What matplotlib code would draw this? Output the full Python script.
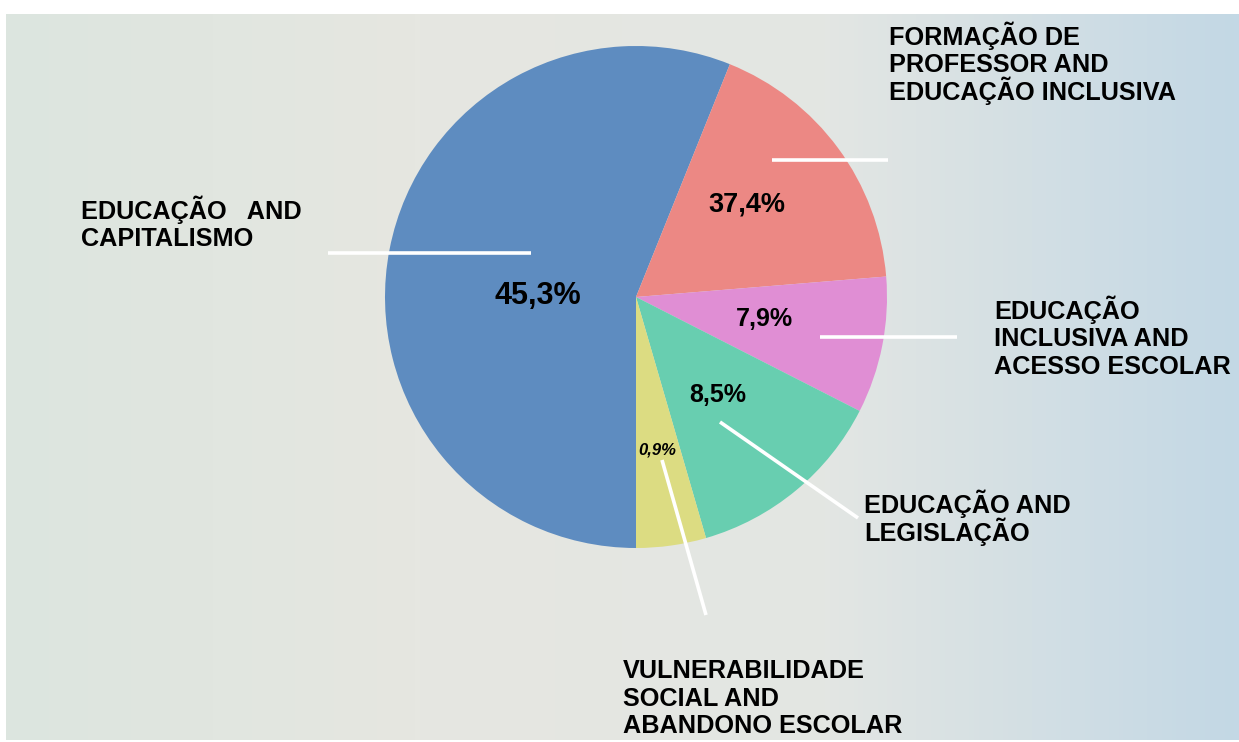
import numpy as np
import matplotlib.pyplot as plt
from matplotlib.colors import LinearSegmentedColormap

# slice sizes as drawn (degrees, in percent)
categories = ['EDUCAÇÃO   AND\nCAPITALISMO',
              'FORMAÇÃO DE\nPROFESSOR AND\nEDUCAÇÃO INCLUSIVA',
              'EDUCAÇÃO\nINCLUSIVA AND\nACESSO ESCOLAR',
              'EDUCAÇÃO AND\nLEGISLAÇÃO',
              'VULNERABILIDADE\nSOCIAL AND\nABANDONO ESCOLAR']
sizes = [56.1, 17.6, 8.8, 13.0, 4.5]
pct_labels = ['45,3%', '37,4%', '7,9%', '8,5%', '0,9%']
colors = ['#5e8cc0', '#ec8884', '#e08ed4', '#68ceb0', '#dcdc82']

W, H = 1239, 742
fig = plt.figure(figsize=(W / 100, H / 100), dpi=100)
fig.patch.set_facecolor('white')

# background gradient panel
bg = fig.add_axes([6 / W, 2 / H, (W - 6) / W, (H - 16) / H])
cmap = LinearSegmentedColormap.from_list('bg', ['#dce5df', '#e6e7e1', '#e3e6e3', '#c3d8e5'])
grad = np.linspace(0, 1, 256).reshape(1, -1)
bg.imshow(grad, cmap=cmap, aspect='auto', extent=[0, 1, 0, 1])
bg.set_axis_off()

# pie
cx, cy, r = 636, 297, 251
ax = fig.add_axes([(cx - r) / W, (H - cy - r) / H, 2 * r / W, 2 * r / H])
ax.pie(sizes, colors=colors, startangle=-90, counterclock=False,
       wedgeprops=dict(linewidth=0))
ax.set_xlim(-1, 1)
ax.set_ylim(-1, 1)
ax.patch.set_visible(False)

# overlay in pixel coordinates for labels and leader lines
ov = fig.add_axes([0, 0, 1, 1])
ov.set_xlim(0, W)
ov.set_ylim(H, 0)
ov.set_axis_off()
ov.patch.set_visible(False)

leaders = [((328, 253), (531, 253)),
           ((772, 160), (888, 160)),
           ((820, 337), (957, 337)),
           ((720, 422), (858, 518)),
           ((662, 460), (706, 615))]
for (x0, y0), (x1, y1) in leaders:
    ov.plot([x0, x1], [y0, y1], color='white', lw=2.6, solid_capstyle='butt')

# left x and first baseline of each category label
name_pos = [(81, 219), (889, 45), (994, 319), (864, 513), (623, 678)]
step = 27.5
for txt, (x, y) in zip(categories, name_pos):
    for i, line in enumerate(txt.split('\n')):
        ov.text(x, y + i * step, line, ha='left', va='baseline', fontsize=18.2,
                fontweight='bold', family='Liberation Sans', color='black')

pct_pos = [(538, 296), (747, 204), (764, 319), (718, 395), (657, 450)]
pct_size = [22, 19.5, 18, 18, 12]
pct_style = ['normal', 'normal', 'normal', 'normal', 'italic']
for txt, (x, y), fs, st in zip(pct_labels, pct_pos, pct_size, pct_style):
    ov.text(x, y, txt, ha='center', va='center', fontsize=fs, fontweight='bold',
            fontstyle=st, family='Liberation Sans', color='black')

fig.savefig('out.png', dpi=100)
